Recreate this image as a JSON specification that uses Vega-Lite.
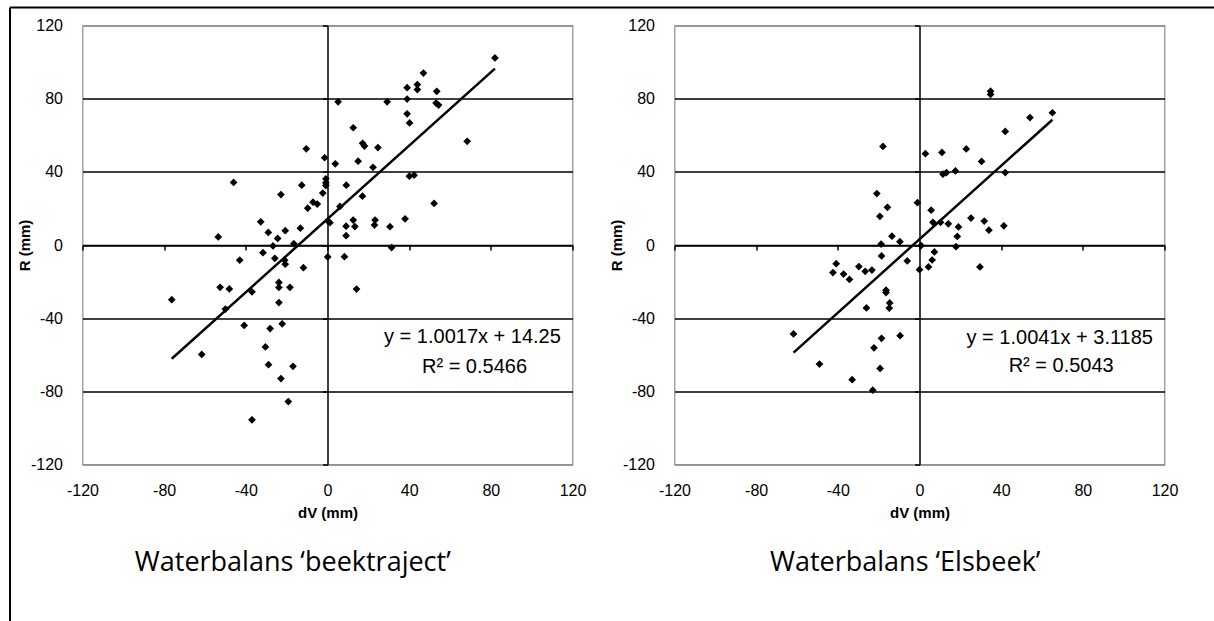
{
  "$schema": "https://vega.github.io/schema/vega-lite/v6.json",
  "padding": {"left": 7.5, "top": 5.5, "right": 0, "bottom": 0},
  "bounds": "flush",
  "spacing": 102,
  "background": "white",
  "config": {
    "view": {"stroke": "#8c8c8c", "strokeWidth": 1.2},
    "font": "Liberation Sans",
    "axis": {"labelFont": "Liberation Sans", "labelFontSize": 16, "labelColor": "#000", "titleFont": "Liberation Sans", "titleFontSize": 15, "titleFontWeight": "bold", "titleColor": "#000", "labelFlush": false, "labelOverlap": false}
  },
  "datasets": {
    "left": [
      {"x":82,"y":102.3},{"x":47,"y":94},{"x":39,"y":86},{"x":44,"y":87.7},{"x":44,"y":85},{"x":53.5,"y":84},{"x":5.2,"y":78.3},{"x":29.2,"y":78.3},{"x":39,"y":79.8},{"x":53.2,"y":77.6},{"x":54.4,"y":76.5},{"x":39,"y":71.7},{"x":40.2,"y":66.7},{"x":12.6,"y":64.1},{"x":68.4,"y":56.7},{"x":17.2,"y":55.6},{"x":18.1,"y":54.1},{"x":24.7,"y":53.3},{"x":-10.4,"y":52.6},{"x":-1.4,"y":47.7},{"x":3.8,"y":44.4},{"x":15,"y":45.8},{"x":22.3,"y":42.5},{"x":-46,"y":34.2},{"x":-0.8,"y":36.2},{"x":-0.8,"y":34},{"x":-0.8,"y":32.5},{"x":-12.6,"y":32.7},{"x":9.2,"y":32.7},{"x":-22.8,"y":27.6},{"x":-2.3,"y":28.4},{"x":17.1,"y":26.7},{"x":-7.1,"y":23.4},{"x":-5,"y":22.4},{"x":-9.7,"y":20.1},{"x":42.4,"y":38.2},{"x":40.1,"y":37.6},{"x":52.2,"y":22.7},{"x":6.1,"y":21.1},{"x":0.3,"y":13},{"x":1.2,"y":12.2},{"x":-32.7,"y":12.7},{"x":12.6,"y":13.6},{"x":13.4,"y":10.1},{"x":9.1,"y":10.3},{"x":23.3,"y":13.6},{"x":23,"y":10.9},{"x":30.6,"y":10},{"x":38,"y":14.3},{"x":9.1,"y":5.1},{"x":-29,"y":6.9},{"x":-20.7,"y":7.8},{"x":-13.3,"y":9.2},{"x":-53.5,"y":4.4},{"x":-24.4,"y":3.6},{"x":-26.7,"y":-0.5},{"x":-16.5,"y":0.7},{"x":31.4,"y":-1.4},{"x":-31.6,"y":-4.2},{"x":-25.8,"y":-7.3},{"x":0.1,"y":-6.5},{"x":8.3,"y":-6.4},{"x":-43,"y":-8.3},{"x":-21,"y":-8.3},{"x":-20.7,"y":-10.5},{"x":-11.8,"y":-12.4},{"x":-52.6,"y":-23.1},{"x":-48.1,"y":-24},{"x":-23.8,"y":-20.5},{"x":-23.8,"y":-23.2},{"x":-18.4,"y":-23.1},{"x":14.2,"y":-24.1},{"x":-37,"y":-25.6},{"x":-50,"y":-35},{"x":-76.3,"y":-29.9},{"x":-23.8,"y":-31.5},{"x":-40.8,"y":-44},{"x":-22.2,"y":-43.1},{"x":-28.1,"y":-45.7},{"x":-30.4,"y":-55.7},{"x":-61.6,"y":-59.8},{"x":-28.9,"y":-65.4},{"x":-16.9,"y":-66.3},{"x":-22.8,"y":-73},{"x":-19.2,"y":-85.6},{"x":-37,"y":-95.6}
    ],
    "right": [
      {"x":34.8,"y":84.1},{"x":34.8,"y":82.3},{"x":65.1,"y":72.3},{"x":54.1,"y":69.7},{"x":42,"y":62.1},{"x":-17.9,"y":53.9},{"x":2.9,"y":49.9},{"x":11,"y":50.6},{"x":22.9,"y":52.5},{"x":30.4,"y":45.7},{"x":11.5,"y":38.7},{"x":13.2,"y":39.6},{"x":17.6,"y":40.5},{"x":42,"y":39.6},{"x":-20.9,"y":28.1},{"x":-1,"y":23.1},{"x":-15.7,"y":20.6},{"x":-19.4,"y":15.7},{"x":5.7,"y":19},{"x":6.6,"y":12.4},{"x":10.3,"y":12.4},{"x":14.1,"y":11.6},{"x":25.2,"y":14.7},{"x":31.7,"y":13.1},{"x":34,"y":8.1},{"x":41.3,"y":10.5},{"x":19.1,"y":9.9},{"x":18.5,"y":4.7},{"x":-13.5,"y":4.8},{"x":-9.6,"y":1.8},{"x":-18.8,"y":0.5},{"x":0.8,"y":-0.3},{"x":17.9,"y":-0.9},{"x":-18.6,"y":-6},{"x":-6,"y":-8.7},{"x":7.3,"y":-3.8},{"x":6.2,"y":-8.2},{"x":4.4,"y":-12},{"x":0,"y":-13.5},{"x":29.6,"y":-12},{"x":-40.8,"y":-10.2},{"x":-42.4,"y":-15.1},{"x":-37.2,"y":-15.9},{"x":-34.3,"y":-18.8},{"x":-29.7,"y":-11.8},{"x":-26.6,"y":-14.4},{"x":-23.3,"y":-13.7},{"x":-16.4,"y":-24.7},{"x":-16.4,"y":-26},{"x":-14.6,"y":-31.7},{"x":-14.8,"y":-34.5},{"x":-26,"y":-34.4},{"x":-61.7,"y":-48.6},{"x":-18.6,"y":-51},{"x":-22.3,"y":-56.2},{"x":-9.5,"y":-49.6},{"x":-49,"y":-65.1},{"x":-19.3,"y":-67.5},{"x":-33,"y":-73.6},{"x":-22.9,"y":-79.4}
    ],
    "leftTrend": [{"x":-76.3,"y":-62.2},{"x":82,"y":96.4}],
    "rightTrend": [{"x":-61.7,"y":-58.8},{"x":65.1,"y":68.5}],
    "frameLeft": [{"x":-155.5,"y":129.8,"y2":-206}],
    "frameTop": [{"x":-155.5,"x2":436,"y":129.8}],
    "one": [{}]
  },
  "hconcat": [
    {
      "width": 490, "height": 439,
      "layer": [
        {"data": {"name": "frameLeft"},
         "mark": {"type": "rule", "color": "#000", "strokeWidth": 2, "clip": false},
         "encoding": {"x": {"field": "x", "type": "quantitative", "scale": {"domain": [-120,120], "nice": false, "zero": false}, "axis": null},
                      "y": {"field": "y", "type": "quantitative", "scale": {"domain": [-120,120], "nice": false, "zero": false}, "axis": null},
                      "y2": {"field": "y2"}}},
        {"data": {"name": "frameTop"},
         "mark": {"type": "rule", "color": "#000", "strokeWidth": 2, "clip": false},
         "encoding": {"x": {"field": "x", "type": "quantitative", "scale": {"domain": [-120,120], "nice": false, "zero": false}, "axis": null},
                      "x2": {"field": "x2"},
                      "y": {"field": "y", "type": "quantitative", "scale": {"domain": [-120,120], "nice": false, "zero": false}, "axis": null}}},
        {"data": {"name": "left"},
         "mark": {"type": "point", "shape": "diamond", "filled": true, "color": "#000", "size": 60, "opacity": 1},
         "encoding": {
           "x": {"field": "x", "type": "quantitative", "scale": {"domain": [-120,120], "nice": false, "zero": false},
                 "axis": {"values": [-120,-80,-40,0,40,80,120], "labelExpr": "'' + datum.value", "domain": false, "ticks": false, "grid": false, "labelPadding": 18, "title": "dV (mm)", "titlePadding": 7}},
           "y": {"field": "y", "type": "quantitative", "scale": {"domain": [-120,120], "nice": false, "zero": false},
                 "axis": {"values": [-120,-80,-40,0,40,80,120], "labelExpr": "'' + datum.value", "domain": false, "ticks": false, "grid": true, "gridColor": {"condition": {"test": "abs(datum.value) == 120", "value": "#8c8c8c"}, "value": "#000"}, "gridWidth": 1.5, "labelPadding": 20, "title": "R (mm)", "titlePadding": -2}}
         }},
        {"data": {"name": "leftTrend"},
         "mark": {"type": "line", "color": "#000", "strokeWidth": 2.5},
         "encoding": {
           "x": {"field": "x", "type": "quantitative", "scale": {"domain": [-120,120], "nice": false, "zero": false},
                 "axis": {"orient": "bottom", "offset": -219.5, "values": [-120,-80,-40,0,40,80,120], "labels": false, "title": null, "grid": false, "domain": true, "domainColor": "#000", "domainWidth": 1.5, "ticks": true, "tickColor": "#000", "tickSize": 5, "tickWidth": 1.5}},
           "y": {"field": "y", "type": "quantitative", "scale": {"domain": [-120,120], "nice": false, "zero": false},
                 "axis": {"orient": "left", "offset": -245, "values": [-120,-80,-40,0,40,80,120], "labels": false, "title": null, "grid": false, "domain": true, "domainColor": "#000", "domainWidth": 1.5, "ticks": true, "tickColor": "#000", "tickSize": 5, "tickWidth": 1.5}}
         }},
        {"data": {"name": "one"},
         "mark": {"type": "text", "font": "Liberation Sans", "fontSize": 20, "color": "#000", "align": "center", "baseline": "middle", "clip": false},
         "encoding": {"x": {"datum": 71, "type": "quantitative", "scale": {"domain": [-120,120], "nice": false, "zero": false}, "axis": null},
                      "y": {"datum": -50.5, "type": "quantitative", "scale": {"domain": [-120,120], "nice": false, "zero": false}, "axis": null},
                      "text": {"value": "y = 1.0017x + 14.25"}}},
        {"data": {"name": "one"},
         "mark": {"type": "text", "font": "Liberation Sans", "fontSize": 20, "color": "#000", "align": "center", "baseline": "middle", "clip": false},
         "encoding": {"x": {"datum": 72, "type": "quantitative", "scale": {"domain": [-120,120], "nice": false, "zero": false}, "axis": null},
                      "y": {"datum": -66.9, "type": "quantitative", "scale": {"domain": [-120,120], "nice": false, "zero": false}, "axis": null},
                      "text": {"value": "R² = 0.5466"}}},
        {"data": {"name": "one"},
         "mark": {"type": "text", "font": "Open Sans", "fontSize": 27, "color": "#000", "align": "center", "baseline": "middle", "clip": false},
         "encoding": {"x": {"datum": -17, "type": "quantitative", "scale": {"domain": [-120,120], "nice": false, "zero": false}, "axis": null},
                      "y": {"datum": -174, "type": "quantitative", "scale": {"domain": [-120,120], "nice": false, "zero": false}, "axis": null},
                      "text": {"value": "Waterbalans ‘beektraject’"}}}
      ],
      "resolve": {"axis": {"x": "independent", "y": "independent"}}
    },
    {
      "width": 490, "height": 439,
      "layer": [
        {"data": {"name": "right"},
         "mark": {"type": "point", "shape": "diamond", "filled": true, "color": "#000", "size": 60, "opacity": 1},
         "encoding": {
           "x": {"field": "x", "type": "quantitative", "scale": {"domain": [-120,120], "nice": false, "zero": false},
                 "axis": {"values": [-120,-80,-40,0,40,80,120], "labelExpr": "'' + datum.value", "domain": false, "ticks": false, "grid": false, "labelPadding": 18, "title": "dV (mm)", "titlePadding": 7}},
           "y": {"field": "y", "type": "quantitative", "scale": {"domain": [-120,120], "nice": false, "zero": false},
                 "axis": {"values": [-120,-80,-40,0,40,80,120], "labelExpr": "'' + datum.value", "domain": false, "ticks": false, "grid": true, "gridColor": {"condition": {"test": "abs(datum.value) == 120", "value": "#8c8c8c"}, "value": "#000"}, "gridWidth": 1.5, "labelPadding": 20, "title": "R (mm)", "titlePadding": -2}}
         }},
        {"data": {"name": "rightTrend"},
         "mark": {"type": "line", "color": "#000", "strokeWidth": 2.5},
         "encoding": {
           "x": {"field": "x", "type": "quantitative", "scale": {"domain": [-120,120], "nice": false, "zero": false},
                 "axis": {"orient": "bottom", "offset": -219.5, "values": [-120,-80,-40,0,40,80,120], "labels": false, "title": null, "grid": false, "domain": true, "domainColor": "#000", "domainWidth": 1.5, "ticks": true, "tickColor": "#000", "tickSize": 5, "tickWidth": 1.5}},
           "y": {"field": "y", "type": "quantitative", "scale": {"domain": [-120,120], "nice": false, "zero": false},
                 "axis": {"orient": "left", "offset": -245, "values": [-120,-80,-40,0,40,80,120], "labels": false, "title": null, "grid": false, "domain": true, "domainColor": "#000", "domainWidth": 1.5, "ticks": true, "tickColor": "#000", "tickSize": 5, "tickWidth": 1.5}}
         }},
        {"data": {"name": "one"},
         "mark": {"type": "text", "font": "Liberation Sans", "fontSize": 20, "color": "#000", "align": "center", "baseline": "middle", "clip": false},
         "encoding": {"x": {"datum": 68.7, "type": "quantitative", "scale": {"domain": [-120,120], "nice": false, "zero": false}, "axis": null},
                      "y": {"datum": -50.8, "type": "quantitative", "scale": {"domain": [-120,120], "nice": false, "zero": false}, "axis": null},
                      "text": {"value": "y = 1.0041x + 3.1185"}}},
        {"data": {"name": "one"},
         "mark": {"type": "text", "font": "Liberation Sans", "fontSize": 20, "color": "#000", "align": "center", "baseline": "middle", "clip": false},
         "encoding": {"x": {"datum": 69.4, "type": "quantitative", "scale": {"domain": [-120,120], "nice": false, "zero": false}, "axis": null},
                      "y": {"datum": -66.4, "type": "quantitative", "scale": {"domain": [-120,120], "nice": false, "zero": false}, "axis": null},
                      "text": {"value": "R² = 0.5043"}}},
        {"data": {"name": "one"},
         "mark": {"type": "text", "font": "Open Sans", "fontSize": 27, "color": "#000", "align": "center", "baseline": "middle", "clip": false},
         "encoding": {"x": {"datum": -7, "type": "quantitative", "scale": {"domain": [-120,120], "nice": false, "zero": false}, "axis": null},
                      "y": {"datum": -174, "type": "quantitative", "scale": {"domain": [-120,120], "nice": false, "zero": false}, "axis": null},
                      "text": {"value": "Waterbalans ‘Elsbeek’"}}}
      ],
      "resolve": {"axis": {"x": "independent", "y": "independent"}}
    }
  ]
}
